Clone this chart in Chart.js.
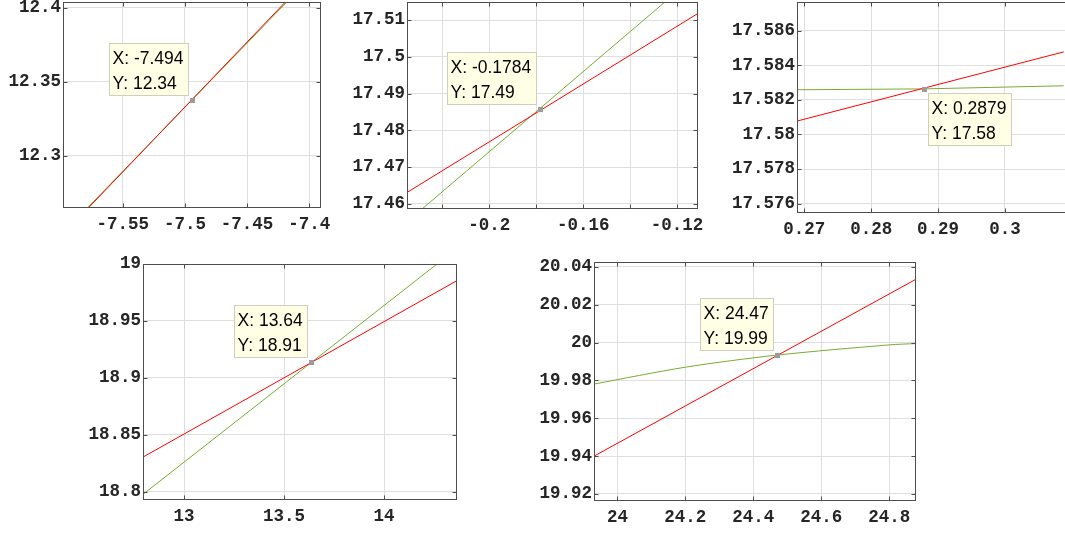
<!DOCTYPE html>
<html>
<head>
<meta charset="utf-8">
<title>Curve intersections</title>
<script src="https://cdn.jsdelivr.net/npm/chart.js@4/dist/chart.umd.min.js"></script>
<style>
  html, body { margin: 0; padding: 0; background: #ffffff; overflow: hidden; width: 1065px; height: 536px; }
  canvas { position: absolute; left: 0; top: 0; }
</style>
</head>
<body>
<script>
// ---- Panel A: crossing near x = -7.49 ----
const xTicksA = ['-7.55', '-7.5', '-7.45', '-7.4'];
const yTicksA = ['12.3', '12.35', '12.4'];
const xRangeA = [-7.598, -7.3906];
const yRangeA = [12.2647, 12.4039];
const redA = [[-7.5777, 12.2647], [-7.4192, 12.4039]];
const greenA = [[-7.5785, 12.2647], [-7.4180, 12.4039]];
const tipA = [-7.494, 12.3376];

// ---- Panel B: crossing near x = -0.178 ----
const xTicksB = ['-0.22', '-0.2', '-0.18', '-0.16', '-0.14', '-0.12'];
const xLabelsB = ['-0.2', '-0.16', '-0.12'];
const yTicksB = ['17.46', '17.47', '17.48', '17.49', '17.5', '17.51'];
const xRangeB = [-0.2351, -0.1111];
const yRangeB = [17.4586, 17.5149];
const redB = [[-0.2351, 17.4631], [-0.1111, 17.5118]];
const greenB = [[-0.2287, 17.4586], [-0.1252, 17.5149]];
const tipB = [-0.1784, 17.4858];

// ---- Panel C: crossing near x = 0.288 ----
const xTicksC = ['0.27', '0.28', '0.29', '0.3'];
const yTicksC = ['17.576', '17.578', '17.58', '17.582', '17.584', '17.586'];
const xRangeC = [0.2689, 0.30973];
const yRangeC = [17.57546, 17.58765];
const redC = [[0.2689, 17.58077], [0.3088, 17.58477]];
const greenC = [[0.2689, 17.58258], [0.2879, 17.58263], [0.3088, 17.58281]];
const tipC = [0.2879, 17.58263];

// ---- Panel D: crossing near x = 13.64 ----
const xTicksD = ['13', '13.5', '14'];
const yTicksD = ['18.8', '18.85', '18.9', '18.95', '19'];
const xRangeD = [12.795, 14.365];
const yRangeD = [18.7927, 19.0];
const redD = [[12.795, 18.8304], [14.365, 18.9854]];
const greenD = [[12.795, 18.7977], [14.265, 19.0]];
const tipD = [13.637, 18.9137];

// ---- Panel E: crossing near x = 24.47 ----
const xTicksE = ['24', '24.2', '24.4', '24.6', '24.8'];
const yTicksE = ['19.92', '19.94', '19.96', '19.98', '20', '20.02', '20.04'];
const xRangeE = [23.931, 24.879];
const yRangeE = [19.9163, 20.0426];
const redE = [[23.931, 19.94], [24.879, 20.0335]];
const greenE = [[23.931, 19.9781], [24.2, 19.987], [24.47, 19.9934], [24.8, 19.9988], [24.879, 19.9995]];
const tipE = [24.47, 19.9934];

// ---- shared styling ----
const CANVAS_W = 1100, CANVAS_H = 560;
const TICK_FONT = { family: '"Liberation Mono", "Courier New", monospace', size: 17.5, weight: 'bold' };
const TICK_COLOR = '#262626';
const AXIS_COLOR = '#4d4d4d';
const GRID_COLOR = '#dfdfdf';
const RED = '#ff0000';
const GREEN = '#77ac30';
const TIP_FONT = '17.5px "Liberation Sans", Arial, Helvetica, sans-serif';

const num = s => parseFloat(s);
const sig4 = v => String(Number(v.toPrecision(4)));
const toXY = pts => pts.map(([x, y]) => ({ x, y }));

// Box outline, inward tick marks on every side, and the data tip.
function framePlugin(spec) {
  return {
    id: 'frame',
    afterDraw(chart) {
      const { ctx, chartArea: ca, scales } = chart;
      const L = Math.round(ca.left) + 0.5, T = Math.round(ca.top) + 0.5;
      const R = Math.round(ca.right) - 0.5, B = Math.round(ca.bottom) - 0.5;
      ctx.save();
      ctx.strokeStyle = AXIS_COLOR;
      ctx.lineWidth = 1;
      ctx.strokeRect(L, T, R - L, B - T);
      const tl = 4;
      ctx.beginPath();
      scales.x.ticks.forEach(t => {
        const p = Math.round(scales.x.getPixelForValue(t.value)) + 0.5;
        if (p < L || p > R) return;
        ctx.moveTo(p, B); ctx.lineTo(p, B - tl);
        ctx.moveTo(p, T); ctx.lineTo(p, T + tl);
      });
      scales.y.ticks.forEach(t => {
        const p = Math.round(scales.y.getPixelForValue(t.value)) + 0.5;
        if (p < T || p > B) return;
        ctx.moveTo(L, p); ctx.lineTo(L + tl, p);
        ctx.moveTo(R, p); ctx.lineTo(R - tl, p);
      });
      ctx.stroke();

      // data tip marker
      const px = scales.x.getPixelForValue(spec.tip[0]);
      const py = scales.y.getPixelForValue(spec.tip[1]);
      ctx.fillStyle = '#9b9b9b';
      ctx.fillRect(Math.round(px) - 2, Math.round(py) - 2, 5, 5);

      // data tip box
      const lines = ['X: ' + sig4(spec.tip[0]), 'Y: ' + sig4(spec.tip[1])];
      ctx.font = TIP_FONT;
      const tw = Math.max(...lines.map(s => ctx.measureText(s).width));
      const bw = Math.round(tw + 9), bh = 53;
      let bx, by;
      if (spec.tipSide === 'se') { bx = Math.round(px) + 4; by = Math.round(py) + 4; }
      else { bx = Math.round(px) - 3 - bw; by = Math.round(py) - 4 - bh; }
      ctx.fillStyle = '#ffffe5';
      ctx.fillRect(bx, by, bw, bh);
      ctx.strokeStyle = '#cfcfc0';
      ctx.strokeRect(bx + 0.5, by + 0.5, bw - 1, bh - 1);
      ctx.fillStyle = '#000000';
      ctx.textBaseline = 'alphabetic';
      ctx.textAlign = 'left';
      ctx.fillText(lines[0], bx + 3.5, by + 21);
      ctx.fillText(lines[1], bx + 3.5, by + 45.5);
      ctx.restore();
    }
  };
}

function makePanel(spec) {
  const cv = document.createElement('canvas');
  cv.width = CANVAS_W; cv.height = CANVAS_H;
  cv.style.width = CANVAS_W + 'px'; cv.style.height = CANVAS_H + 'px';
  document.body.appendChild(cv);
  const a = spec.area;
  const yW = Math.min(a.l, 100), xH = 30;
  const xShown = spec.xLabels || spec.xTicks;
  new Chart(cv, {
    type: 'line',
    data: {
      datasets: [
        { data: toXY(spec.red), borderColor: RED, borderWidth: 1, pointRadius: 0, tension: 0, fill: false },
        { data: toXY(spec.green), borderColor: GREEN, borderWidth: 1, pointRadius: 0, tension: spec.greenTension || 0, fill: false }
      ]
    },
    options: {
      responsive: false,
      maintainAspectRatio: false,
      animation: false,
      devicePixelRatio: 1,
      events: [],
      layout: { padding: { left: a.l - yW, top: a.t, right: CANVAS_W - a.r, bottom: CANVAS_H - a.b - xH } },
      plugins: { legend: { display: false }, tooltip: { enabled: false } },
      scales: {
        x: {
          type: 'linear',
          min: spec.xRange[0], max: spec.xRange[1],
          afterBuildTicks: s => { s.ticks = spec.xTicks.map(t => ({ value: num(t) })); },
          afterFit: s => { s.height = xH; s.paddingLeft = 0; s.paddingRight = 0; },
          ticks: {
            autoSkip: false, maxRotation: 0, minRotation: 0, padding: 6,
            color: TICK_COLOR, font: TICK_FONT,
            callback: (v, i) => (xShown.includes(spec.xTicks[i]) ? spec.xTicks[i] : '')
          },
          grid: { color: GRID_COLOR, lineWidth: 1, drawTicks: false },
          border: { display: false }
        },
        y: {
          type: 'linear',
          min: spec.yRange[0], max: spec.yRange[1],
          afterBuildTicks: s => { s.ticks = spec.yTicks.map(t => ({ value: num(t) })); },
          afterFit: s => { s.width = yW; s.paddingTop = 0; s.paddingBottom = 0; },
          ticks: {
            autoSkip: false, padding: 2,
            color: TICK_COLOR, font: TICK_FONT,
            callback: (v, i) => spec.yTicks[i]
          },
          grid: { color: GRID_COLOR, lineWidth: 1, drawTicks: false },
          border: { display: false }
        }
      }
    },
    plugins: [framePlugin(spec)]
  });
}

makePanel({ area: { l: 63, t: 2, r: 321, b: 208 }, xRange: xRangeA, yRange: yRangeA,
  xTicks: xTicksA, yTicks: yTicksA, red: redA, green: greenA, tip: tipA, tipSide: 'nw' });
makePanel({ area: { l: 407, t: 2, r: 698, b: 209 }, xRange: xRangeB, yRange: yRangeB,
  xTicks: xTicksB, xLabels: xLabelsB, yTicks: yTicksB, red: redB, green: greenB, tip: tipB, tipSide: 'nw' });
makePanel({ area: { l: 797, t: 2, r: 1070, b: 213 }, xRange: xRangeC, yRange: yRangeC,
  xTicks: xTicksC, yTicks: yTicksC, red: redC, green: greenC, tip: tipC, tipSide: 'se' });
makePanel({ area: { l: 143, t: 264, r: 457, b: 500 }, xRange: xRangeD, yRange: yRangeD,
  xTicks: xTicksD, yTicks: yTicksD, red: redD, green: greenD, tip: tipD, tipSide: 'nw' });
makePanel({ area: { l: 594, t: 262, r: 916, b: 501 }, xRange: xRangeE, yRange: yRangeE,
  xTicks: xTicksE, yTicks: yTicksE, red: redE, green: greenE, tip: tipE, tipSide: 'nw', greenTension: 0.3 });
</script>
</body>
</html>
